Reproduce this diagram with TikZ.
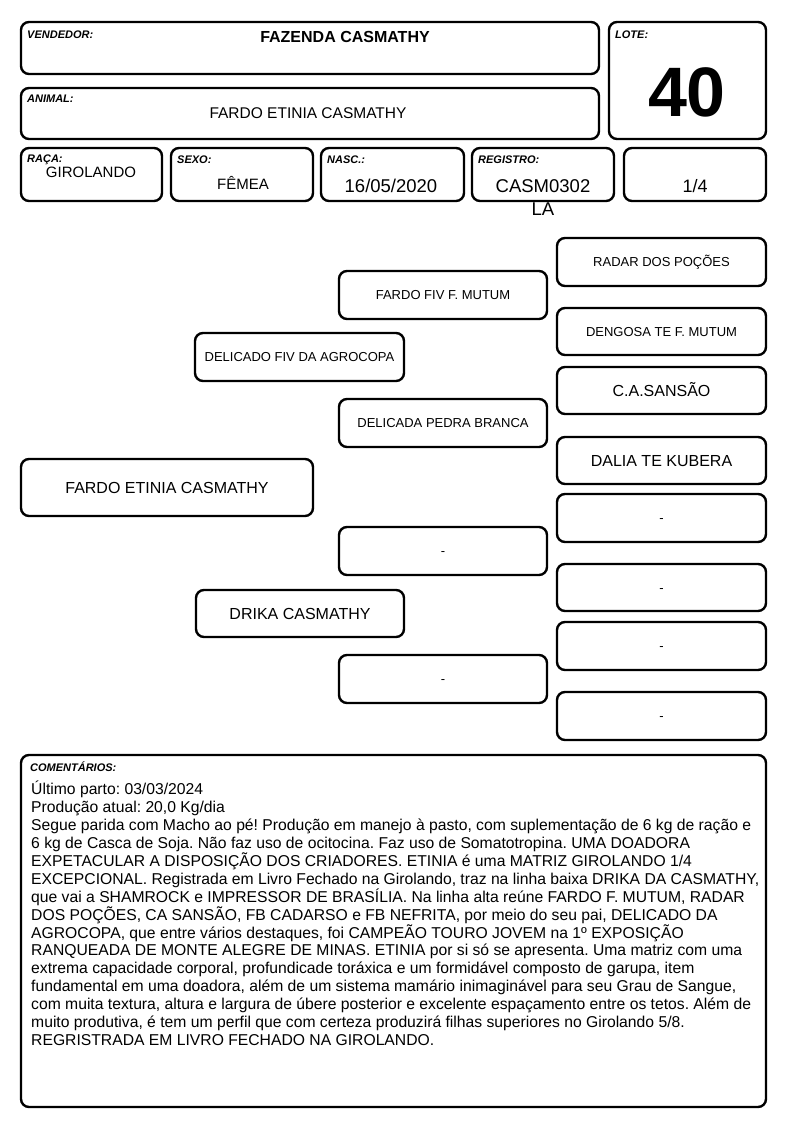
\documentclass[tikz,border=0pt]{standalone}
\usepackage{fontspec}
\setmainfont{Liberation Sans}
\newcommand\fsz[1]{\fontsize{#1}{#1}\selectfont}
\frenchspacing
\begin{document}
\begin{tikzpicture}[x=1pt,y=-1pt,
  box/.style={draw=black, line width=2.4pt, rounded corners=8pt, inner sep=0pt, outer sep=0pt},
  lbl/.style={anchor=base west, inner sep=0pt, font=\fsz{11}\bfseries\itshape},
  val/.style={anchor=base, inner sep=0pt},
  psm/.style={box, font=\fsz{13}, text height=9.3pt, text depth=0pt},
  plg/.style={box, font=\fsz{16}, text height=11.5pt, text depth=0pt},
]
\useasboundingbox (0,0) rectangle (794,1123);
\fill[white] (0,0) rectangle (794,1123);

% ---------- header boxes ----------
\node[box, minimum width=578pt, minimum height=52pt] (vend) at (310,48) {};
\node[box, minimum width=157pt, minimum height=117pt] (lote) at (687.5,80.5) {};
\node[box, minimum width=578pt, minimum height=51pt] (anim) at (310,113.5) {};
\node[box, minimum width=141pt, minimum height=53pt] (raca) at (91.5,174.5) {};
\node[box, minimum width=142pt, minimum height=53pt] (sexo) at (242,174.5) {};
\node[box, minimum width=143pt, minimum height=53pt] (nasc) at (392.5,174.5) {};
\node[box, minimum width=142pt, minimum height=53pt] (reg) at (543,174.5) {};
\node[box, minimum width=142pt, minimum height=53pt] (grau) at (695,174.5) {};

% labels
\node[lbl] (lvend) at (27,39) {VENDEDOR:};
\node[lbl] (llote) at (615,39) {LOTE:};
\node[lbl] (lanim) at (27,103) {ANIMAL:};
\node[lbl] (lraca) at (27,163) {RAÇA:};
\node[lbl] (lsexo) at (177,164) {SEXO:};
\node[lbl] (lnasc) at (327,164) {NASC.:};
\node[lbl] (lreg) at (478,164) {REGISTRO:};

% values
\node[val, font=\fsz{16}\bfseries] (tvend) at (345,43) {FAZENDA CASMATHY};
\node[val, font=\fsz{70}\bfseries] (tlote) at (687,117) {40};
\node[val, font=\fsz{15.5}] (tanim) at (308,118.5) {FARDO ETINIA CASMATHY};
\node[val, font=\fsz{15}] (traca) at (91,177.5) {GIROLANDO};
\node[val, font=\fsz{15}] (tsexo) at (243,189.5) {FÊMEA};
\node[val, font=\fsz{18.5}] (tnasc) at (391,192.5) {16/05/2020};
\node[val, font=\fsz{18.5}] (treg) at (543,192.5) {CASM0302};
\node[val, font=\fsz{18.5}] (treg2) at (543,215.5) {LA};
\node[val, font=\fsz{18}] (tgrau) at (695,192.5) {1/4};

% ---------- pedigree ----------
\node[plg, minimum width=292pt, minimum height=57pt] (a) at (167,487.5) {FARDO ETINIA CASMATHY};
\node[psm, minimum width=209pt, minimum height=48pt] (p) at (299.5,357) {DELICADO FIV DA AGROCOPA};
\node[plg, minimum width=208pt, minimum height=47pt] (m) at (300,613.5) {DRIKA CASMATHY};
\node[psm, minimum width=208pt, minimum height=48pt] (pp) at (443,295) {FARDO FIV F. MUTUM};
\node[psm, minimum width=208pt, minimum height=48pt] (pm) at (443,423) {DELICADA PEDRA BRANCA};
\node[psm, minimum width=208pt, minimum height=48pt] (mp) at (443,551) {-};
\node[psm, minimum width=208pt, minimum height=48pt] (mm) at (443,679) {-};
\node[psm, minimum width=209pt, minimum height=48pt] (ppp) at (661.5,262) {RADAR DOS POÇÕES};
\node[psm, minimum width=209pt, minimum height=47pt] (ppm) at (661.5,331.5) {DENGOSA TE F. MUTUM};
\node[plg, minimum width=209pt, minimum height=47pt] (pmp) at (661.5,390.5) {C.A.SANSÃO};
\node[plg, minimum width=209pt, minimum height=47pt] (pmm) at (661.5,460.5) {DALIA TE KUBERA};
\node[psm, minimum width=209pt, minimum height=48pt] (mpp) at (661.5,518) {-};
\node[psm, minimum width=209pt, minimum height=47pt] (mpm) at (661.5,587.5) {-};
\node[psm, minimum width=209pt, minimum height=48pt] (mmp) at (661.5,646) {-};
\node[psm, minimum width=209pt, minimum height=48pt] (mmm) at (661.5,716) {-};

% ---------- comments ----------
\node[box, minimum width=745pt, minimum height=352pt] (com) at (393.5,931) {};
\node[lbl] (lcom) at (30,771) {COMENTÁRIOS:};
\node[anchor=north west, inner sep=0pt, align=left, font=\fontsize{15.7}{17.9}\selectfont] (tcom) at (31,781) {%
Último parto: 03/03/2024\\
Produção atual: 20,0 Kg/dia\\
Segue parida com Macho ao pé! Produção em manejo à pasto, com suplementação de 6 kg de ração e\\
6 kg de Casca de Soja. Não faz uso de ocitocina. Faz uso de Somatotropina. UMA DOADORA\\
EXPETACULAR A DISPOSIÇÃO DOS CRIADORES. ETINIA é uma MATRIZ GIROLANDO 1/4\\
EXCEPCIONAL. Registrada em Livro Fechado na Girolando, traz na linha baixa DRIKA DA CASMATHY,\\
que vai a SHAMROCK e IMPRESSOR DE BRASÍLIA. Na linha alta reúne FARDO F. MUTUM, RADAR\\
DOS POÇÕES, CA SANSÃO, FB CADARSO e FB NEFRITA, por meio do seu pai, DELICADO DA\\
AGROCOPA, que entre vários destaques, foi CAMPEÃO TOURO JOVEM na 1º EXPOSIÇÃO\\
RANQUEADA DE MONTE ALEGRE DE MINAS. ETINIA por si só se apresenta. Uma matriz com uma\\
extrema capacidade corporal, profundicade toráxica e um formidável composto de garupa, item\\
fundamental em uma doadora, além de um sistema mamário inimaginável para seu Grau de Sangue,\\
com muita textura, altura e largura de úbere posterior e excelente espaçamento entre os tetos. Além de\\
muito produtiva, é tem um perfil que com certeza produzirá filhas superiores no Girolando 5/8.\\
REGRISTRADA EM LIVRO FECHADO NA GIROLANDO.};
\end{tikzpicture}
\end{document}
